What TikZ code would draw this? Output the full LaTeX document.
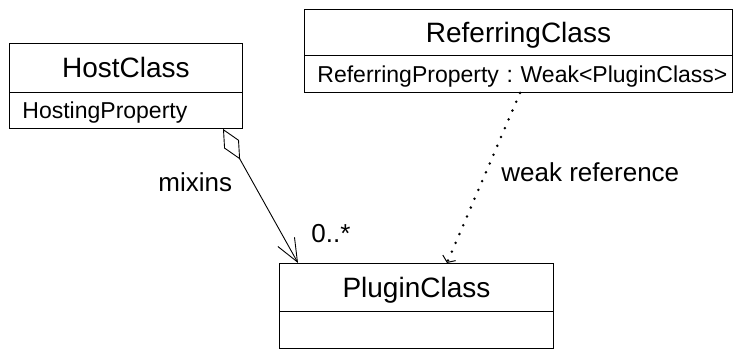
\documentclass[tikz,border=0pt]{standalone}
\usepackage{fontspec}
\setmainfont{Liberation Sans}
\usetikzlibrary{arrows.meta}
\frenchspacing
\begin{document}
\begin{tikzpicture}[x=1pt,y=-1pt,line width=0.9pt,
  classtitle/.style={draw,inner sep=0pt,anchor=north west,
    font=\fontsize{28}{32}\selectfont,text height=20pt,text depth=0pt},
  classattr/.style={draw,inner xsep=13pt,inner ysep=0pt,anchor=north west,
    font=\fontsize{23}{27}\selectfont,align=left,text height=16.5pt,text depth=0pt},
  edgelabel/.style={inner sep=0pt,anchor=base west,font=\fontsize{26}{30}\selectfont},
  aggregation/.style={{Diamond[open,fill=white,length=35pt,width=17pt,line width=0.9pt]}-{Straight Barb[length=23pt,width=19pt,line width=0.9pt]}},
  weakref/.style={line width=2.8pt,line cap=round,dash pattern=on 0pt off 9.6pt,
    -{Straight Barb[length=5pt,width=14pt,line width=1pt]}}
]
\useasboundingbox (0,0) rectangle (734,350);

% HostClass
\node[classtitle,minimum width=233pt,minimum height=49pt] (hostT) at (9,43) {HostClass};
\node[classattr,minimum width=233pt,minimum height=36pt,text width=207pt] (hostA) at (9,92) {\mbox{HostingProperty}};

% ReferringClass
\node[classtitle,minimum width=428pt,minimum height=46pt] (refT) at (304,9) {ReferringClass};
\node[classattr,minimum width=428pt,minimum height=37pt,text width=402pt] (refA) at (304,55) {\mbox{ReferringProperty : Weak<PluginClass>}};

% PluginClass
\node[classtitle,minimum width=274pt,minimum height=48pt] (plugT) at (279,263) {PluginClass};
\node[draw,inner sep=0pt,anchor=north west,minimum width=274pt,minimum height=37pt] (plugA) at (279,311) {};

% connection points on the box edges
\coordinate (aggStart) at (hostA.south west -| 223,0);
\coordinate (aggEnd) at (plugT.north west -| 298,0);
\coordinate (weakStart) at (refA.south west -| 520,0);
\coordinate (weakEnd) at (plugT.north west -| 447,0);

\draw[aggregation] (aggStart) -- (aggEnd);
\draw[weakref] (weakStart) -- (weakEnd);

% labels
\node[edgelabel] (mix) at (158,192) {mixins};
\node[edgelabel] (mult) at (311,242) {0..*};
\node[edgelabel] (weak) at (501,182) {weak reference};
\end{tikzpicture}
\end{document}
